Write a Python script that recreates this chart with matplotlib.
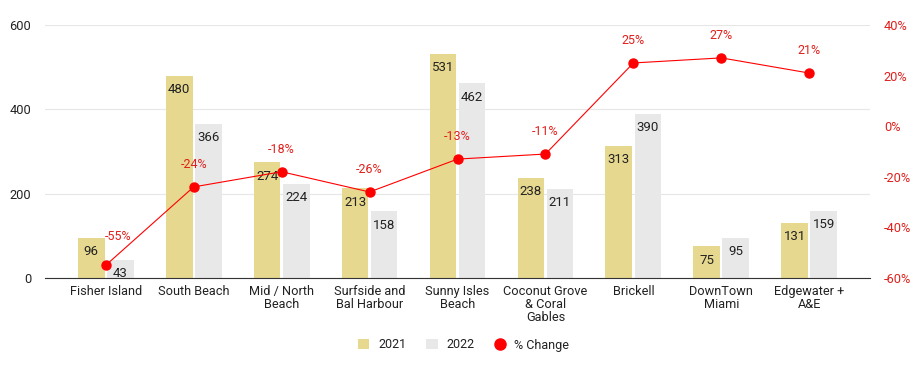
import matplotlib.pyplot as plt
from matplotlib.lines import Line2D
import numpy as np

plt.rcParams['font.family'] = ['Roboto', 'DejaVu Sans']

areas = ['Fisher Island', 'South Beach', 'Mid / North\nBeach', 'Surfside and\nBal Harbour',
         'Sunny Isles\nBeach', 'Coconut Grove\n& Coral\nGables', 'Brickell',
         'DownTown\nMiami', 'Edgewater +\nA&E']
sales_2021 = [96, 480, 274, 213, 531, 238, 313, 75, 131]
sales_2022 = [43, 366, 224, 158, 462, 211, 390, 95, 159]
pct_change = [-55, -24, -18, -26, -13, -11, 25, 27, 21]

c21 = '#e6d88f'
c22 = '#e8e8e8'
red = '#ff0000'
red_txt = '#e0201c'

fig = plt.figure(figsize=(9.24, 3.71), dpi=100)
ax = fig.add_axes([45 / 924, 1 - 278 / 371, 825 / 924, 253 / 371])
ax2 = ax.twinx()

x = np.arange(len(areas))
w = 0.305
b1 = ax.bar(x - 0.165, sales_2021, w, color=c21, label='2021', zorder=2)
b2 = ax.bar(x + 0.165, sales_2022, w, color=c22, label='2022', zorder=2)

for bars in (b1, b2):
    for b in bars:
        ax.annotate('%d' % b.get_height(), (b.get_x() + b.get_width() / 2, b.get_height()),
                    xytext=(0, -10), textcoords='offset points', ha='center', va='center',
                    fontsize=9.5, color='#222222', zorder=3)

ax.set_xlim(-0.69, len(areas) - 0.31)
ax.set_ylim(0, 600)
ax.set_yticks([0, 200, 400, 600])
ax.grid(axis='y', color='#e6e6e6', lw=0.8, zorder=0)
ax.set_axisbelow(True)
ax.set_xticks(x)
ax.set_xticklabels(areas, fontsize=9.2, color='#222222', linespacing=1.0, va='top')
ax.tick_params(axis='both', length=0, labelsize=9.2, colors='#222222')
ax.tick_params(axis='x', pad=5)
ax.tick_params(axis='y', pad=10)
for s in ['top', 'right', 'left']:
    ax.spines[s].set_visible(False)
ax.spines['bottom'].set_color('#333333')

ln, = ax2.plot(x, pct_change, color=red, lw=0.8, marker='o', ms=6.5, label='% Change', zorder=4)
ax2.set_ylim(-60, 40)
ax2.set_yticks([-60, -40, -20, 0, 20, 40])
ax2.set_yticklabels(['%d%%' % v for v in [-60, -40, -20, 0, 20, 40]])
ax2.tick_params(axis='y', length=0, labelsize=9.2, colors=red_txt, pad=10)
for s in ax2.spines.values():
    s.set_visible(False)

for i, v in enumerate(pct_change):
    dx = 9 if i == 0 else 0
    dy = 21 if i == 0 else 16
    ax2.annotate('%d%%' % v, (x[i], v), xytext=(dx, dy), textcoords='offset points',
                 ha='center', va='center', fontsize=9, color=red_txt, zorder=5)

dot = Line2D([], [], color=red, marker='o', ms=8, lw=0)
leg = fig.legend([b1, b2, dot], ['2021', '2022', '% Change'], loc='center',
                 bbox_to_anchor=(0.502, 1 - 345 / 371), ncol=3, frameon=False, fontsize=9,
                 handlelength=0.9, handleheight=0.9, columnspacing=1.6, handletextpad=0.7)
for t in leg.get_texts():
    t.set_color('#222222')

fig.savefig('out.png', dpi=100)
